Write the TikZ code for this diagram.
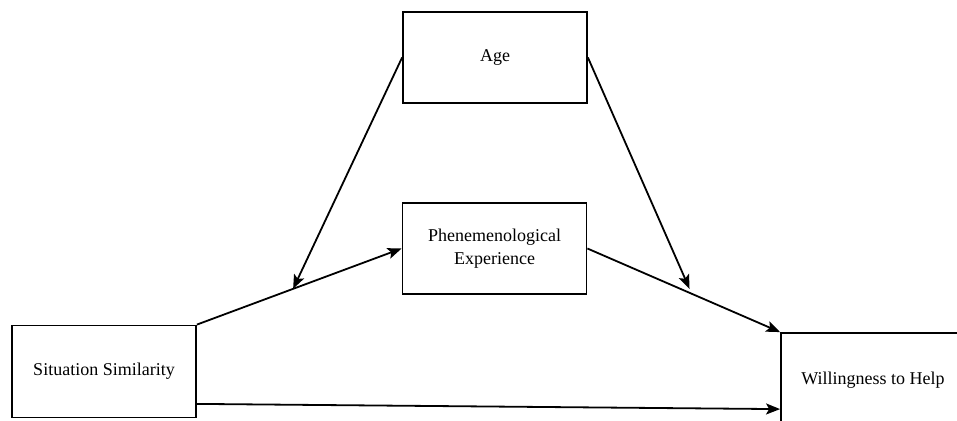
\documentclass[tikz,border=0pt]{standalone}
\usepackage{fontspec}
\setmainfont{Liberation Serif}
\usetikzlibrary{arrows.meta}
\begin{document}
\begin{tikzpicture}[x=1pt,y=-1pt,
  box/.style={draw, line width=1.8pt, minimum width=184pt, minimum height=91pt, inner sep=0pt, align=center, font=\fontsize{18}{23}\selectfont},
  arr/.style={line width=1.8pt, -{Stealth[length=14pt,width=11pt,inset=3pt]}}]
\useasboundingbox (0,0) rectangle (957,420);
\clip (0,0) rectangle (957,420);
\node[box] (age) at (495,57.5) {Age};
\node[box] (phen) at (494.5,248.5) {Phenemenological\\Experience};
\node[box, minimum height=92pt] (ss) at (104,371.5) {Situation Similarity};
\node[box, minimum height=94pt] (wh) at (873,380) {Willingness to Help};
\draw[arr] (ss.north east) -- coordinate[pos=0.47] (m1) (phen.west);
\draw[arr] (phen.east) -- coordinate[pos=0.53] (m2) (wh.north west);
\draw[arr] (age.west) -- (m1);
\draw[arr] (age.east) -- ([yshift=4pt]m2);
\draw[arr] ([yshift=14.5pt]ss.south east) -- ([yshift=-77pt]wh.north west);
\end{tikzpicture}
\end{document}
